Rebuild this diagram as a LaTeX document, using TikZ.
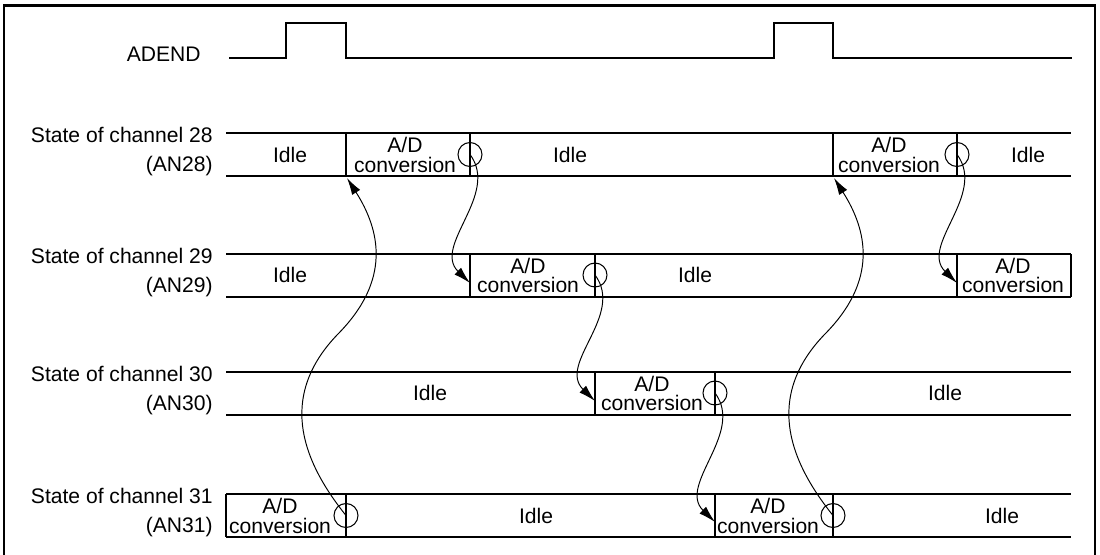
\documentclass[tikz,border=0pt]{standalone}
\usepackage{fontspec}
\setmainfont{Liberation Sans}
\usetikzlibrary{arrows.meta}

\begin{document}
\begin{tikzpicture}[
    x=0.02cm, y=-0.02cm,
    >={Latex[length=3.4mm, width=1.9mm]},
    frame/.style={line width=1.3pt},
    sig/.style={line width=0.7pt},
    bar/.style={line width=0.6pt},
    lbl/.style={font=\fontsize{12}{16}\selectfont, align=right, anchor=east, inner sep=0pt},
    seg/.style={font=\fontsize{12}{11}\selectfont, align=center, inner sep=0pt},
    endmark/.style={circle, draw, line width=0.6pt, minimum size=0.48cm, inner sep=0pt},
    hop/.style={->, line width=0.55pt}
]
\useasboundingbox (0,0) rectangle (1100,555);

% === Marco ===
\draw[frame] (4,556) |- (1095,5.5) -- (1095,556);

% === Senal ADEND ===
\node[lbl] (adend) at (201,54) {ADEND};
\draw[sig] (229,58) -- (286,58) -- (286,23) -- (346,23) -- (346,58)
    -- (774,58) -- (774,23) -- (833,23) -- (833,58) -- (1072,58);

% === Filas de canales ===
\foreach \y/\n in {133/28, 254/29, 372/30, 494/31} {
    \draw[bar] (226,\y) -- (1071,\y);
    \draw[bar] (226,\y+43) -- (1071,\y+43);
    \node[lbl] (ch\n) at (213,\y+18.5) {State of channel \n\\(AN\n)};
}

% Divisiones
\foreach \x/\y in {346/133, 470/133, 833/133, 957/133,
                   470/254, 595/254, 957/254, 1071/254,
                   595/372, 715/372,
                   226/494, 346/494, 715/494, 833/494}
    \draw[bar] (\x,\y) -- (\x,\y+43);

% === Estados ===
\node[seg] (i28a) at (290,154.5) {Idle};
\node[seg] (ad28a) at (405,155) {A/D\\conversion};
\node[seg] (i28b) at (570,154.5) {Idle};
\node[seg] (ad28b) at (889,155) {A/D\\conversion};
\node[seg] (i28c) at (1028,154.5) {Idle};

\node[seg] (i29a) at (290,275) {Idle};
\node[seg] (ad29a) at (528,275.5) {A/D\\conversion};
\node[seg] (i29b) at (695,275) {Idle};
\node[seg] (ad29b) at (1013,275.5) {A/D\\conversion};

\node[seg] (i30a) at (430,393) {Idle};
\node[seg] (ad30) at (652,393.5) {A/D\\conversion};
\node[seg] (i30b) at (945,393) {Idle};

\node[seg] (ad31a) at (280,516) {A/D\\conversion};
\node[seg] (i31a) at (536,515.5) {Idle};
\node[seg] (ad31b) at (768,516) {A/D\\conversion};
\node[seg] (i31b) at (1002,515.5) {Idle};

% === Fin de conversion ===
\node[endmark] (e28a) at (470,154.5) {};
\node[endmark] (e28b) at (957,154.5) {};
\node[endmark] (e29) at (595,275) {};
\node[endmark] (e30) at (715,393) {};
\node[endmark] (e31a) at (346,515.5) {};
\node[endmark] (e31b) at (833,515.5) {};

% Inicio de conversion
\coordinate (s28a) at (347,178);
\coordinate (s28b) at (834,178);
\coordinate (s29a) at (470,283);
\coordinate (s29b) at (957,283);
\coordinate (s30) at (595,401);
\coordinate (s31) at (715,522);

% === Flechas ===
\draw[hop] (e28a.center) .. controls +(30,40) and +(-38,-37) .. (s29a);
\draw[hop] (e29.center) .. controls +(30,40) and +(-38,-37) .. (s30);
\draw[hop] (e30.center) .. controls +(30,40) and +(-38,-37) .. (s31);
\draw[hop] (e28b.center) .. controls +(30,40) and +(-38,-37) .. (s29b);

\draw[hop] (e31a.center) .. controls +(-40,-50) and +(-62,65) .. (337,335)
    .. controls +(55,-55) and +(33,52) .. (s28a);
\draw[hop] (e31b.center) .. controls +(-40,-50) and +(-62,65) .. (824,335)
    .. controls +(55,-55) and +(33,52) .. (s28b);

\end{tikzpicture}
\end{document}
